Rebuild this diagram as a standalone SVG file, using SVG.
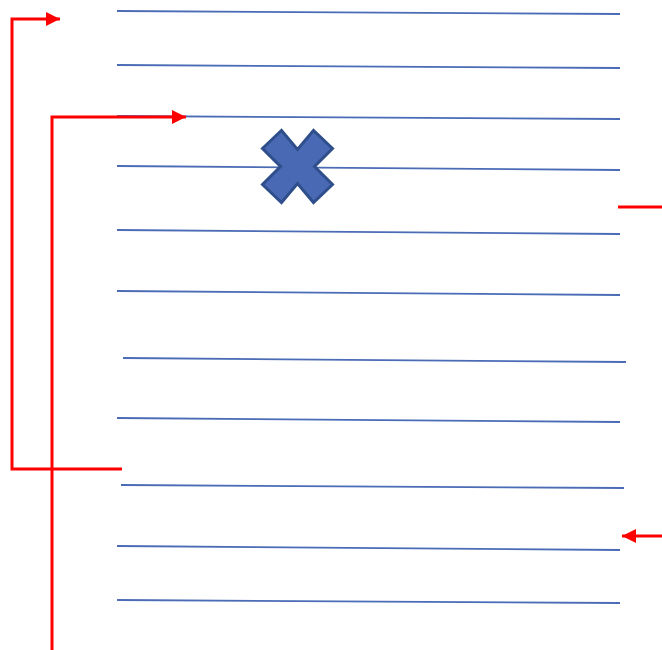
<svg xmlns="http://www.w3.org/2000/svg" width="662" height="650" viewBox="0 0 662 650">
<defs>
<style>
.ln{stroke:#4A6BB5;stroke-width:1.8;fill:none}
.rd{stroke:#FF0000;stroke-width:3;fill:none}
.x{fill:#4A69B4;stroke:#2F4F8C;stroke-width:3;stroke-linejoin:miter}
</style>
<marker id="ah" viewBox="0 0 10 10" refX="10" refY="5" markerWidth="16" markerHeight="14" markerUnits="userSpaceOnUse" orient="auto">
<path d="M0,0 L10,5 L0,10 Z" fill="#FF0000"/>
</marker>
</defs>
<rect width="662" height="650" fill="#FFFFFF"/>
<g id="lines">
<line class="ln" x1="117" y1="11" x2="620" y2="14"/>
<line class="ln" x1="117" y1="65" x2="620" y2="68"/>
<line class="ln" x1="117" y1="116" x2="620" y2="119"/>
<line class="ln" x1="117" y1="166" x2="620" y2="170"/>
<line class="ln" x1="117" y1="230" x2="620" y2="234"/>
<line class="ln" x1="117" y1="291" x2="620" y2="295"/>
<line class="ln" x1="123" y1="358" x2="626" y2="362"/>
<line class="ln" x1="117" y1="418" x2="620" y2="422"/>
<line class="ln" x1="121" y1="485" x2="624" y2="488"/>
<line class="ln" x1="117" y1="546" x2="620" y2="550"/>
<line class="ln" x1="117" y1="600" x2="620" y2="603"/>
</g>
<g id="cross">
<polygon class="x" transform="translate(297.5,166.5)" points="-16,-36 0,-17 16,-36 35,-18 17,0 35,18 16,36 0,17 -16,36 -35,18 -17,0 -35,-18"/>
</g>
<g id="connectors">
<polyline class="rd" points="122,469 12,469 12,19 60,19" marker-end="url(#ah)"/>
<polyline class="rd" points="52,650 52,117 186,117" marker-end="url(#ah)"/>
<line class="rd" x1="618" y1="207" x2="662" y2="207"/>
<line class="rd" x1="662" y1="536" x2="622" y2="536" marker-end="url(#ah)"/>
</g>
</svg>
